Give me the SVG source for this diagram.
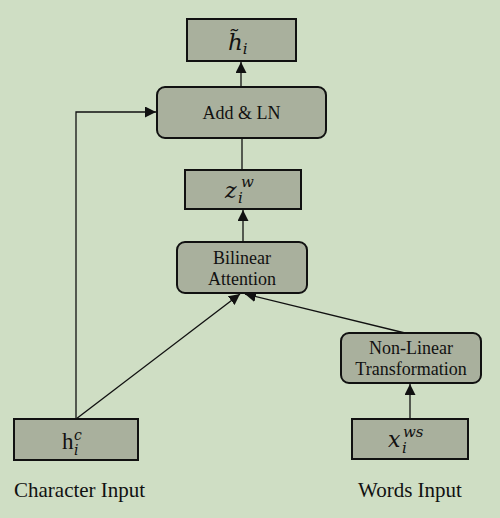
<svg xmlns="http://www.w3.org/2000/svg" width="500" height="518" viewBox="0 0 500 518">
<style>
.box{fill:#a9b09d;stroke:#111;stroke-width:2}
.lbl{font-family:"Liberation Serif",serif;font-size:18px;fill:#111;text-anchor:middle}
.math{font-family:"DejaVu Serif","Liberation Serif",serif;font-style:italic;fill:#111}
.cap{font-family:"Liberation Serif",serif;font-size:21px;fill:#111}
.ln{stroke:#111;stroke-width:1.3;fill:none}
</style>
<defs>
<marker id="ah" viewBox="0 0 10 10" refX="10" refY="5" markerWidth="11" markerHeight="11" markerUnits="userSpaceOnUse" orient="auto">
<path d="M0,0 L10,5 L0,10 z" fill="#111"/>
</marker>
</defs>
<rect width="500" height="518" fill="#cfdec4"/>
<g id="connectors">
<line class="ln" x1="241" y1="87" x2="241" y2="62" marker-end="url(#ah)"/>
<line class="ln" x1="242" y1="138" x2="242" y2="170"/>
<line class="ln" x1="243" y1="242" x2="243" y2="210" marker-end="url(#ah)"/>
<line class="ln" x1="410" y1="419" x2="410" y2="384" marker-end="url(#ah)"/>
<polyline class="ln" points="76,419 76,112 156,112" marker-end="url(#ah)"/>
<line class="ln" x1="76" y1="419" x2="240" y2="294" marker-end="url(#ah)"/>
<line class="ln" x1="405" y1="333" x2="245" y2="294" marker-end="url(#ah)"/>
</g>
<g id="h_tilde">
<rect class="box" x="187" y="19" width="109" height="42"/>
<text class="math" x="228" y="50" font-size="23">h̃<tspan font-size="15" dy="4">i</tspan></text>
</g>
<g id="add_ln">
<rect class="box" x="157" y="87" width="169" height="51" rx="8"/>
<text class="lbl" x="241.5" y="119">Add &amp; LN</text>
</g>
<g id="z_w">
<rect class="box" x="185" y="170" width="116" height="39"/>
<text class="math" x="225" y="198" font-size="22">z</text>
<text class="math" x="238" y="203" font-size="15">i</text>
<text class="math" x="241" y="187" font-size="15">w</text>
</g>
<g id="bilinear">
<rect class="box" x="177" y="242" width="130" height="51" rx="8"/>
<text class="lbl" x="242" y="264">Bilinear</text>
<text class="lbl" x="242" y="285">Attention</text>
</g>
<g id="nonlinear">
<rect class="box" x="341" y="333" width="140" height="50" rx="8"/>
<text class="lbl" x="411" y="354">Non-Linear</text>
<text class="lbl" x="411" y="375">Transformation</text>
</g>
<g id="x_ws">
<rect class="box" x="352" y="419" width="116" height="40"/>
<text class="math" x="388" y="447" font-size="22">x</text>
<text class="math" x="402" y="453" font-size="15">i</text>
<text class="math" x="403" y="437" font-size="15">ws</text>
</g>
<g id="h_c">
<rect class="box" x="14" y="419" width="124" height="41"/>
<text x="62" y="449" font-family="Liberation Serif,serif" font-size="23" fill="#111">h</text>
<text class="math" x="74" y="455" font-size="14">i</text>
<text class="math" x="74" y="440" font-size="14">c</text>
</g>
<g id="captions">
<text class="cap" x="14" y="497">Character Input</text>
<text class="cap" x="358" y="497">Words Input</text>
</g>
</svg>
